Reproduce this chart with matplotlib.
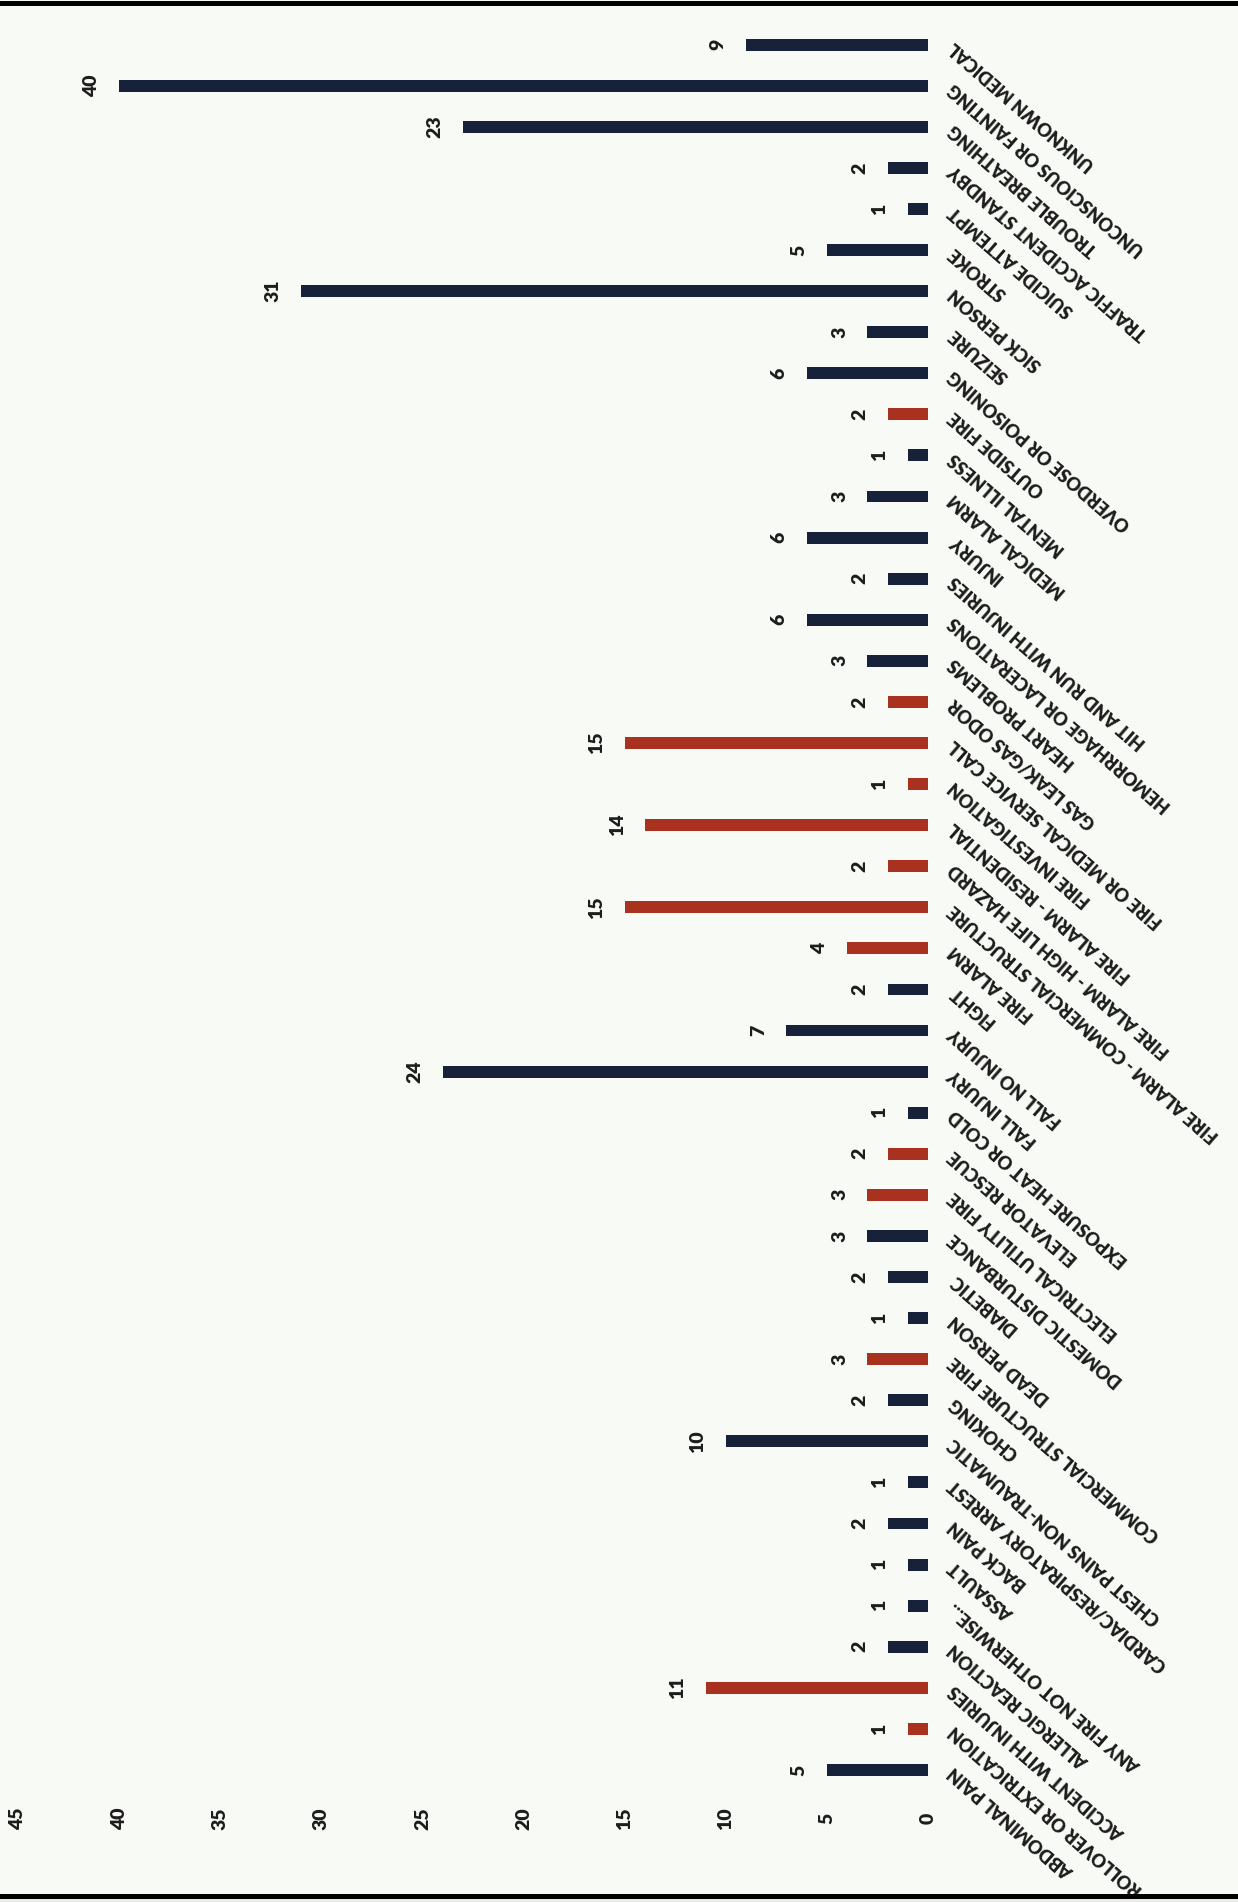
import matplotlib
matplotlib.use("Agg")
import matplotlib.pyplot as plt
from matplotlib.lines import Line2D
from matplotlib.patches import Rectangle

# call types, bottom to top as drawn
categories = [
    "ABDOMINAL PAIN",
    "ACCIDENT - ROLLOVER OR EXTRICATION",
    "ACCIDENT WITH INJURIES",
    "ALLERGIC REACTION",
    "ANY FIRE NOT OTHERWISE...",
    "ASSAULT",
    "BACK PAIN",
    "CARDIAC/RESPIRATORY ARREST",
    "CHEST PAINS NON-TRAUMATIC",
    "CHOKING",
    "COMMERCIAL STRUCTURE FIRE",
    "DEAD PERSON",
    "DIABETIC",
    "DOMESTIC DISTURBANCE",
    "ELECTRICAL UTILITY FIRE",
    "ELEVATOR RESCUE",
    "EXPOSURE HEAT OR COLD",
    "FALL INJURY",
    "FALL NO INJURY",
    "FIGHT",
    "FIRE ALARM",
    "FIRE ALARM - COMMERCIAL STRUCTURE",
    "FIRE ALARM - HIGH LIFE HAZARD",
    "FIRE ALARM - RESIDENTIAL",
    "FIRE INVESTIGATION",
    "FIRE OR MEDICAL SERVICE CALL",
    "GAS LEAK/GAS ODOR",
    "HEART PROBLEMS",
    "HEMORRHAGE OR LACERATIONS",
    "HIT AND RUN WITH INJURIES",
    "INJURY",
    "MEDICAL ALARM",
    "MENTAL ILLNESS",
    "OUTSIDE FIRE",
    "OVERDOSE OR POISONING",
    "SEIZURE",
    "SICK PERSON",
    "STROKE",
    "SUICIDE ATTEMPT",
    "TRAFFIC ACCIDENT STANDBY",
    "TROUBLE BREATHING",
    "UNCONSCIOUS OR FAINTING",
    "UNKNOWN MEDICAL",
]
counts = [5, 1, 11, 2, 1, 1, 2, 1, 10, 2, 3, 1, 2, 3, 3, 2, 1, 24, 7, 2, 4, 15,
          2, 14, 1, 15, 2, 3, 6, 2, 6, 3, 1, 2, 6, 3, 31, 5, 1, 2, 23, 40, 9]
# 1 = red bar, 0 = navy bar
fire_flag = [0, 1, 1, 0, 0, 0, 0, 0, 0, 0, 1, 0, 0, 0, 1, 1, 0, 0, 0, 0, 1, 1,
             1, 1, 1, 1, 1, 0, 0, 0, 0, 0, 0, 1, 0, 0, 0, 0, 0, 0, 0, 0, 0]
value_ticks = [0, 5, 10, 15, 20, 25, 30, 35, 40, 45]

navy = "#17213a"
red = "#a8321f"
bg = "#f8faf6"
ink = "#1c1c1c"

plt.rcParams['font.family'] = ['Lato', 'DejaVu Sans']
plt.rcParams['font.weight'] = 'heavy'

W, H = 1238, 1902
fig = plt.figure(figsize=(W / 100, H / 100), dpi=100, facecolor=bg)
ax = fig.add_axes([18 / W, 111.5 / H, 910 / W, 1766.4 / H])
ax.set_facecolor(bg)

pos = list(range(len(categories)))
colors = [red if f else navy for f in fire_flag]
bars = ax.barh(pos, counts, height=0.29, color=colors)

ax.set_xlim(45, 0)
ax.set_ylim(-0.5, len(categories) - 0.5)
ax.set_xticks(value_ticks)
ax.tick_params(axis='x', length=0, pad=20, labelsize=14, labelrotation=90, labelcolor=ink)
for lab in ax.get_xticklabels():
    lab.set_va('center')
    lab.set_fontweight('heavy')

ax.yaxis.tick_right()
ax.set_yticks(pos)
ax.set_yticklabels(categories)
ax.tick_params(axis='y', length=0, pad=17, labelsize=13, labelcolor=ink)
for lab in ax.get_yticklabels():
    lab.set_fontweight('heavy')
    lab.set_rotation(139)
    lab.set_ha('right')
    lab.set_va('center')
    lab.set_rotation_mode('anchor')

for s in ax.spines.values():
    s.set_visible(False)

for b, v in zip(bars, counts):
    ax.annotate(str(v), (v, b.get_y() + b.get_height() / 2), xytext=(-20, 0),
                textcoords='offset points', rotation=90, ha='center', va='center',
                fontsize=14, fontweight='heavy', color=ink)

# scan frame: black rules at top and bottom
fig.add_artist(Rectangle((0, 0), 1, 4 / H, transform=fig.transFigure,
                         facecolor="#e9ebe8", edgecolor='none', zorder=10))
fig.add_artist(Line2D([0, 1], [1 - 2.5 / H, 1 - 2.5 / H], transform=fig.transFigure,
                      color='black', lw=3.6, zorder=11))
fig.add_artist(Line2D([0, 1], [6.5 / H, 6.5 / H], transform=fig.transFigure,
                      color='black', lw=3.6, zorder=11))

fig.savefig("out.png", dpi=100, facecolor=bg)
